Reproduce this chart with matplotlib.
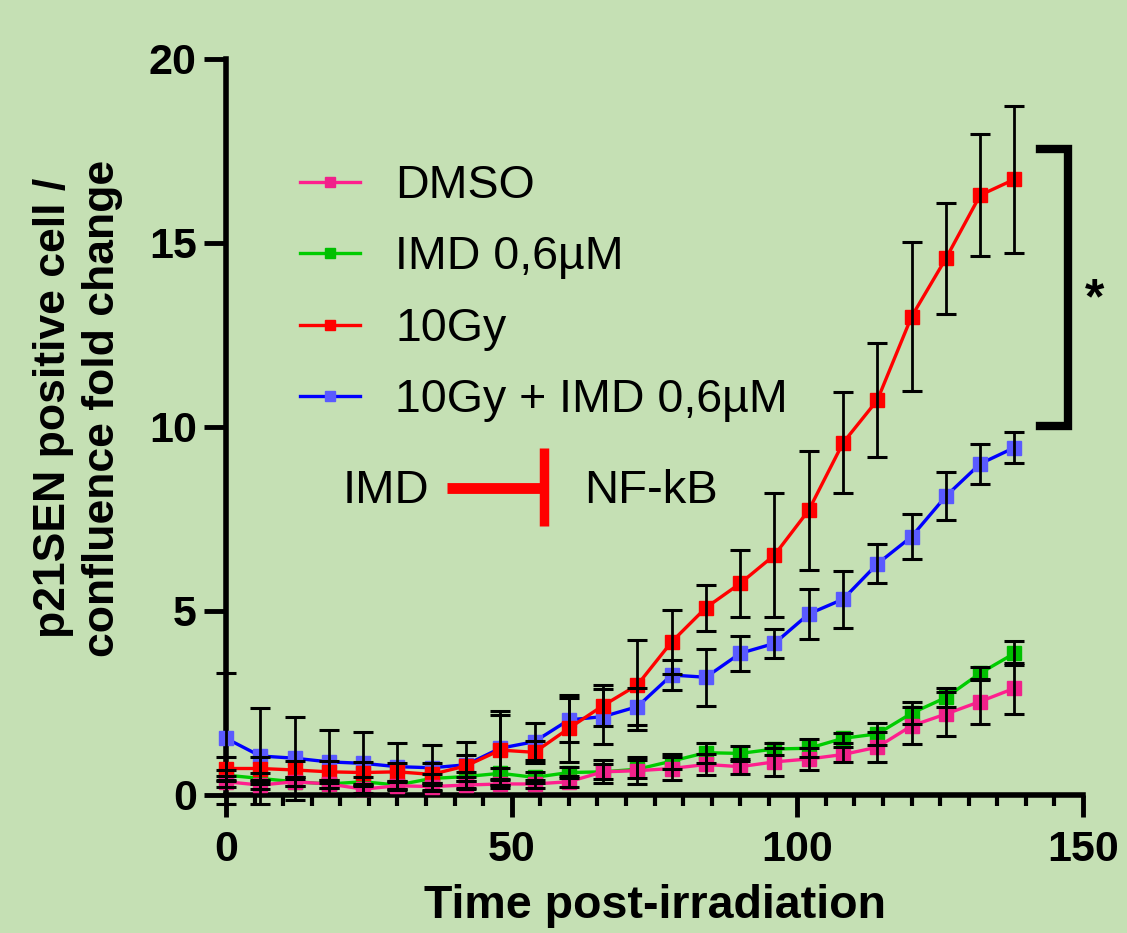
import matplotlib
matplotlib.use("Agg")
import matplotlib.pyplot as plt
from matplotlib.ticker import MultipleLocator
from matplotlib.lines import Line2D

plt.rcParams['font.family'] = ['Liberation Sans', 'DejaVu Sans']

# time points (hours post-irradiation)
t = [0, 6, 12, 18, 24, 30, 36, 42, 48, 54, 60, 66,
     72, 78, 84, 90, 96, 102, 108, 114, 120, 126, 132, 138]

dmso = [0.36, 0.27, 0.36, 0.30, 0.16, 0.25, 0.23, 0.27, 0.30, 0.30, 0.36, 0.63,
        0.66, 0.72, 0.83, 0.77, 0.90, 0.98, 1.10, 1.30, 1.88, 2.20, 2.54, 2.90]
dmso_sd = [0.15, 0.12, 0.12, 0.12, 0.10, 0.10, 0.10, 0.12, 0.12, 0.12, 0.15, 0.31,
           0.36, 0.30, 0.29, 0.21, 0.38, 0.30, 0.20, 0.41, 0.50, 0.60, 0.62, 0.70]

imd = [0.54, 0.45, 0.36, 0.30, 0.36, 0.27, 0.45, 0.50, 0.59, 0.48, 0.61, 0.63,
       0.70, 0.92, 1.15, 1.13, 1.25, 1.27, 1.54, 1.66, 2.22, 2.65, 3.31, 3.85]
imd_sd = [0.15, 0.15, 0.12, 0.12, 0.12, 0.12, 0.12, 0.12, 0.15, 0.15, 0.15, 0.20,
          0.25, 0.20, 0.27, 0.20, 0.17, 0.24, 0.14, 0.29, 0.30, 0.27, 0.18, 0.33]

gy = [0.72, 0.72, 0.68, 0.63, 0.61, 0.63, 0.56, 0.79, 1.22, 1.16, 1.81, 2.43,
      2.99, 4.16, 5.09, 5.75, 6.52, 7.74, 9.57, 10.73, 13.00, 14.58, 16.30, 16.73]
gy_sd = [0.30, 0.30, 0.25, 0.30, 0.30, 0.25, 0.30, 0.30, 0.95, 0.30, 0.90, 0.55,
         1.22, 0.87, 0.62, 0.90, 1.68, 1.62, 1.37, 1.55, 2.02, 1.50, 1.65, 2.00]

gy_imd = [1.54, 1.06, 1.00, 0.90, 0.86, 0.77, 0.74, 0.82, 1.27, 1.45, 2.04, 2.13,
          2.40, 3.26, 3.20, 3.85, 4.12, 4.92, 5.32, 6.28, 7.02, 8.12, 9.00, 9.44]
gy_imd_sd = [1.78, 1.30, 1.13, 0.87, 0.86, 0.63, 0.62, 0.63, 1.00, 0.50, 0.60, 0.75,
             0.50, 0.42, 0.78, 0.47, 0.40, 0.67, 0.77, 0.53, 0.62, 0.65, 0.55, 0.42]

W, H = 1127, 933
def fx(px):
    return px / W
def fy(py):
    return 1 - py / H

bg = '#C5E0B4'
fig = plt.figure(figsize=(W / 100, H / 100), dpi=100, facecolor=bg)
ax = fig.add_axes([fx(226), fy(795), fx(1083) - fx(226), fy(59) - fy(795)])
ax.set_facecolor(bg)

# drawing order: bottom to top
series = [
    (gy_imd, gy_imd_sd, '10Gy + IMD 0,6µM', '#0000FF', '#5A5AFF'),
    (imd, imd_sd, 'IMD 0,6µM', '#00CC00', '#00BF00'),
    (gy, gy_sd, '10Gy', '#FF0000', '#FF0000'),
    (dmso, dmso_sd, 'DMSO', '#FF1F8E', '#F0218A'),
]
handles = {}
for vals, sd, lab, lc, mc in series:
    ax.errorbar(t, vals, yerr=sd, fmt='none', ecolor='black', elinewidth=2.0,
                capsize=7, capthick=2.2, zorder=5, clip_on=False)
    ln, = ax.plot(t, vals, color=lc, lw=2.4, marker='s', ms=9.5, mfc=mc, mec=mc,
                  zorder=3, clip_on=False, label=lab)
    handles[lab] = ln

ax.set_xlim(0, 150)
ax.set_ylim(0, 20)
ax.set_xticks([0, 50, 100, 150])
ax.xaxis.set_minor_locator(MultipleLocator(5))
ax.set_yticks([0, 5, 10, 15, 20])
for s in ['top', 'right']:
    ax.spines[s].set_visible(False)
for s in ['left', 'bottom']:
    ax.spines[s].set_linewidth(4)
ax.tick_params(axis='both', which='major', length=16, width=3.5, labelsize=31)
ax.tick_params(axis='x', which='minor', length=8, width=3)
ax.tick_params(axis='x', which='major', pad=9)
ax.tick_params(axis='y', which='major', pad=5)
for lbl in ax.get_xticklabels() + ax.get_yticklabels():
    lbl.set_fontweight('bold')

ax.set_xlabel('Time post-irradiation', fontsize=33.5, fontweight='bold', labelpad=10)
fig.text(fx(78), fy(408), 'p21SEN positive cell /\nconfluence fold change',
         rotation=90, ha='center', va='center', fontsize=32, fontweight='bold',
         multialignment='center', linespacing=1.25)

order = ['DMSO', 'IMD 0,6µM', '10Gy', '10Gy + IMD 0,6µM']
leg = ax.legend([handles[k] for k in order], order, loc='upper left',
                bbox_to_anchor=(fx(300), fy(164)), bbox_transform=fig.transFigure,
                frameon=False, fontsize=33.5, handlelength=1.3, handletextpad=0.75,
                labelspacing=0.59, borderpad=0, borderaxespad=0, markerscale=0.8)

# IMD --| NF-kB inhibition sketch
fig.text(fx(386), fy(491), 'IMD', fontsize=34, ha='center', va='center')
fig.text(fx(651), fy(491), 'NF-kB', fontsize=34, ha='center', va='center')
fig.add_artist(Line2D([fx(447), fx(541)], [fy(487.5), fy(487.5)], color='#FF0000',
                      lw=7.8, solid_capstyle='butt', transform=fig.transFigure))
fig.add_artist(Line2D([fx(543.5), fx(543.5)], [fy(448), fy(526)], color='#FF0000',
                      lw=6.8, solid_capstyle='butt', transform=fig.transFigure))

# significance bracket
fig.add_artist(Line2D([fx(1040), fx(1068), fx(1068), fx(1040)],
                      [fy(148.5), fy(148.5), fy(426), fy(426)], color='black',
                      lw=6, solid_joinstyle='miter', transform=fig.transFigure))
fig.text(fx(1095), fy(300), '*', fontsize=36, fontweight='bold', ha='center', va='center')

fig.savefig('out.png', dpi=100, facecolor=bg)
